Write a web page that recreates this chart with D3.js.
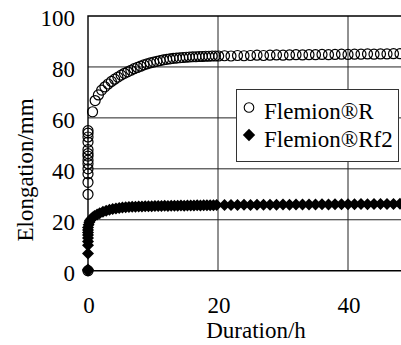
<!DOCTYPE html>
<html>
<head>
<meta charset="utf-8">
<script src="https://cdn.jsdelivr.net/npm/d3@7"></script>
<style>
  html, body { margin: 0; padding: 0; background: #fff; }
  svg { display: block; }
  svg text { font-family: "Liberation Serif", "Times New Roman", Times, "DejaVu Serif", serif; fill: #000; }
</style>
</head>
<body>
<div id="chart"></div>
<script>
// ---- Data
const rTime = [
  0, 0, 0, 0, 0, 0, 0, 0, 0, 0, 0, 0, 0, 0,
  0.7, 1.1, 1.6, 2.1, 2.6, 3.1, 3.6, 4.1, 4.6, 5.1, 5.6, 6.1, 6.6, 7.1, 7.6, 8.1,
  8.6, 9.1, 9.6, 10.1, 10.6, 11.1, 11.6, 12.1, 12.6, 13.1, 13.6, 14.1, 14.6, 15.1,
  15.6, 16.1, 16.6, 17.1, 17.6, 18.1, 18.6, 19.1, 19.6, 20.1,
  21, 22, 23, 24, 25, 26, 27, 28, 29, 30, 31, 32, 33, 34, 35, 36, 37, 38, 39, 40,
  41, 42, 43, 44, 45, 46, 47, 48
];
const rElong = [
  0, 30, 34.7, 38, 40, 42, 43.4, 45, 46, 47.5, 50.5, 52.5, 54, 55,
  62.4, 66.8, 69, 70.9, 72.2, 73.3, 74.3, 75.2, 76, 76.8, 77.5, 78.1, 78.7, 79.3, 79.8, 80.3,
  80.8, 81.2, 81.6, 81.9, 82.2, 82.5, 82.8, 83, 83.2, 83.4, 83.5, 83.6, 83.7, 83.8,
  83.9, 84, 84, 84.1, 84.1, 84.2, 84.2, 84.3, 84.3, 84.3,
  84.4, 84.3, 84.5, 84.4, 84.5, 84.6, 84.5, 84.6, 84.7, 84.6, 84.7, 84.8, 84.7, 84.8, 84.8, 84.9,
  84.8, 84.9, 85, 84.9, 85, 85, 85.1, 85, 85.1, 85.1, 85.2, 85.2
];

const rf2Time = [
  0, 0, 0, 0, 0, 0, 0, 0, 0, 0,
  0.1, 0.2, 0.3, 0.5, 0.7, 1.0, 1.4, 1.8, 2.3, 2.8, 3.3, 3.8, 4.3, 4.8, 5.3, 5.8,
  6.3, 6.8, 7.3, 7.8, 8.3, 8.8, 9.3, 9.8, 10.3, 10.8, 11.3, 11.8, 12.3, 12.8, 13.3,
  13.8, 14.3, 14.8, 15.3, 15.8, 16.3, 16.8, 17.3, 17.8, 18.3, 18.8, 19.3, 19.8,
  21, 22, 23, 24, 25, 26, 27, 28, 29, 30, 31, 32, 33, 34, 35, 36, 37, 38, 39, 40,
  41, 42, 43, 44, 45, 46, 47, 48
];
const rf2Elong = [
  0, 0.5, 6.8, 10, 11.5, 12.8, 14, 15, 16, 17,
  18, 19, 19.7, 20.3, 20.9, 21.5, 22.1, 22.6, 23.1, 23.5, 23.9, 24.2, 24.4, 24.6, 24.8, 24.9,
  25, 25.1, 25.1, 25.2, 25.2, 25.3, 25.3, 25.3, 25.4, 25.4, 25.4, 25.5, 25.4, 25.5, 25.5,
  25.5, 25.6, 25.5, 25.6, 25.6, 25.6, 25.7, 25.6, 25.7, 25.7, 25.7, 25.7, 25.8,
  25.8, 25.8, 25.8, 25.9, 25.8, 25.9, 25.9, 25.9, 25.9, 26, 25.9, 26, 26, 26, 26, 26.1,
  26, 26.1, 26.1, 26.1, 26.1, 26.2, 26.1, 26.2, 26.2, 26.2, 26.2, 26.3
];

const yTicks = [0, 20, 40, 60, 80, 100];
const xTicks = [0, 20, 40];
const seriesNames = ['Flemion\u00AER', 'Flemion\u00AERf2'];

// ---- Layout
const width = 401, height = 345;
const margins = { left: 88, top: 16 };
const plotBottom = 270.7;
const fontSize = 23;

const svg = d3.select('#chart')
  .append('svg')
  .attr('width', width)
  .attr('height', height);

const x = d3.scaleLinear().domain([0, 50]).range([margins.left, margins.left + 325]);
const y = d3.scaleLinear().domain([0, 100]).range([plotBottom, margins.top]);

// ---- Grid lines
svg.append('g')
  .selectAll('line.hgrid')
  .data(yTicks.filter(d => d > 0 && d < 100))
  .join('line')
  .attr('class', 'hgrid')
  .attr('x1', x(0)).attr('x2', x(50))
  .attr('y1', d => y(d)).attr('y2', d => y(d))
  .style('stroke', '#222')
  .style('stroke-width', 1);

svg.append('g')
  .selectAll('line.vgrid')
  .data(xTicks.filter(d => d > 0))
  .join('line')
  .attr('class', 'vgrid')
  .attr('x1', d => x(d)).attr('x2', d => x(d))
  .attr('y1', y(100)).attr('y2', y(0))
  .style('stroke', '#222')
  .style('stroke-width', 1);

// ---- Frame (left, top, bottom)
svg.append('path')
  .attr('d', `M${x(50)},${y(100)}H${x(0)}V${y(0)}H${x(50)}`)
  .style('fill', 'none')
  .style('stroke', '#000')
  .style('stroke-width', 1.4);

// ---- Tick labels
svg.append('g')
  .selectAll('text')
  .data(yTicks)
  .join('text')
  .attr('x', 75)
  .attr('y', d => y(d) + 10)
  .attr('text-anchor', 'end')
  .style('font-size', `${fontSize}px`)
  .text(d => d);

svg.append('g')
  .selectAll('text')
  .data(xTicks)
  .join('text')
  .attr('x', d => x(d) + 1)
  .attr('y', 313)
  .attr('text-anchor', 'middle')
  .style('font-size', `${fontSize}px`)
  .text(d => d);

// ---- Axis titles
svg.append('text')
  .attr('x', 256)
  .attr('y', 338)
  .attr('text-anchor', 'middle')
  .style('font-size', `${fontSize}px`)
  .text('Duration/h');

svg.append('text')
  .attr('transform', 'translate(33,170) rotate(-90)')
  .attr('text-anchor', 'middle')
  .style('font-size', `${fontSize}px`)
  .text('Elongation/mm');

// ---- Markers
const diamond = (s) => `M0,${-s}L${s},0L0,${s}L${-s},0Z`;

const rData = rTime.map((t, i) => [t, rElong[i]]);
const rf2Data = rf2Time.map((t, i) => [t, rf2Elong[i]]);

svg.append('g')
  .selectAll('circle')
  .data(rData)
  .join('circle')
  .attr('cx', d => x(d[0]))
  .attr('cy', d => y(d[1]))
  .attr('r', 5)
  .style('fill', 'none')
  .style('stroke', '#000')
  .style('stroke-width', 1.2);

svg.append('g')
  .selectAll('path')
  .data(rf2Data)
  .join('path')
  .attr('transform', d => `translate(${x(d[0])},${y(d[1])})`)
  .attr('d', diamond(6))
  .style('fill', '#000');

// ---- Legend
const legend = svg.append('g');
legend.append('rect')
  .attr('x', 236.5).attr('y', 89.5)
  .attr('width', 162).attr('height', 72)
  .style('fill', '#fff')
  .style('stroke', '#333')
  .style('stroke-width', 1);

legend.append('circle')
  .attr('cx', 249).attr('cy', 107.5).attr('r', 4.8)
  .style('fill', 'none').style('stroke', '#000').style('stroke-width', 1.1);

legend.append('path')
  .attr('transform', 'translate(249,135)')
  .attr('d', diamond(6.2))
  .style('fill', '#000');

legend.selectAll('text')
  .data(seriesNames)
  .join('text')
  .attr('x', 264)
  .attr('y', (_d, i) => 119 + i * 28)
  .style('font-size', `${fontSize}px`)
  .text(d => d);
</script>
</body>
</html>
